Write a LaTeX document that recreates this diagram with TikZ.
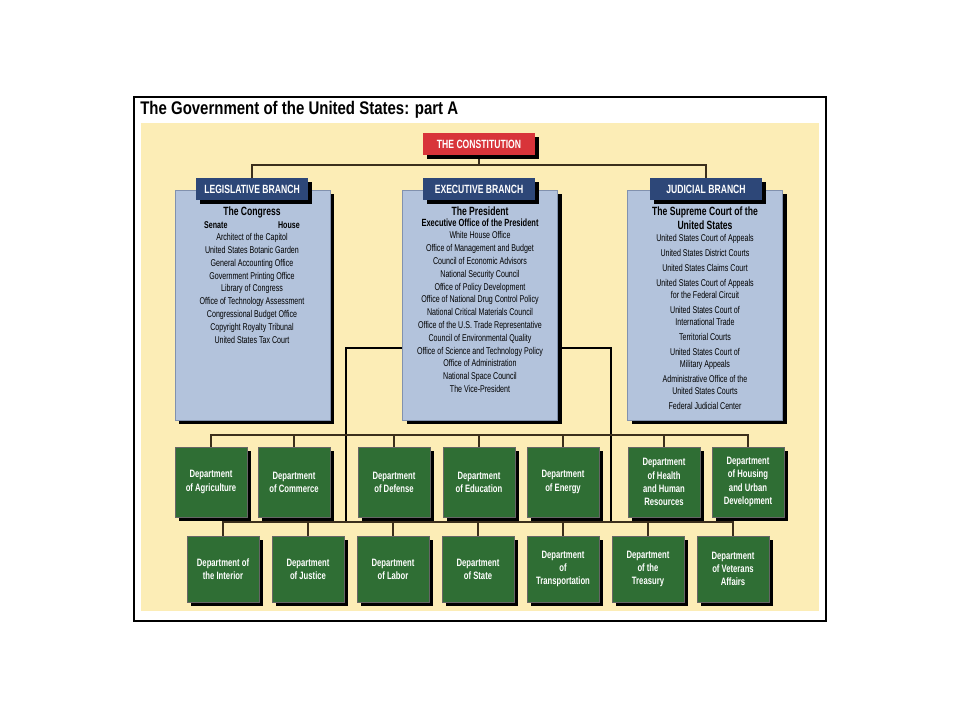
\documentclass[tikz,border=0pt]{standalone}
\usepackage{fontspec}
\setmainfont{Liberation Sans}
\newfontfamily\condfont[FakeStretch=0.72]{Liberation Sans}
\newfontfamily\titlefont[FakeStretch=0.82]{Liberation Sans}
\usetikzlibrary{positioning,shadows}
\definecolor{paper}{HTML}{FCEDB6}
\definecolor{bodyblue}{HTML}{B3C3DC}
\definecolor{headblue}{HTML}{2D4778}
\definecolor{consred}{HTML}{D8343A}
\definecolor{deptgreen}{HTML}{2F6E34}
\definecolor{wire}{HTML}{3B2F1C}
\tikzset{
  shade/.style={drop shadow={fill=black,opacity=1,shadow xshift=3pt,shadow yshift=-3pt}},
  head/.style={shade,fill=headblue,text=white,minimum width=2.8cm,minimum height=0.55cm,inner sep=0pt,font=\condfont\bfseries\fontsize{8.5}{9}\selectfont},
  branchbody/.style={shade,draw=headblue!60,fill=bodyblue,minimum width=3.875cm,minimum height=5.75cm,inner sep=0pt},
  listing/.style={anchor=north,align=center,inner sep=0pt,font=\condfont\fontsize{7}{9.1}\selectfont},
  dept/.style={shade,draw=black!60,fill=deptgreen,text=white,align=center,minimum width=1.8cm,inner sep=0pt,font=\condfont\bfseries\fontsize{7.6}{9.4}\selectfont},
  wireline/.style={wire,line width=1.1pt},
  trunk/.style={black,line width=1.8pt}
}
\begin{document}
\begin{tikzpicture}[x=0.025cm,y=-0.025cm]
  \useasboundingbox (0,0) rectangle (960,720);
  \node[draw=black,line width=1.5pt,minimum width=17.3cm,minimum height=13.1cm,inner sep=0pt] (frame) at (480,359) {};
  \node[fill=paper,minimum width=16.95cm,minimum height=12.2cm,inner sep=0pt] (paper) at (480,367) {};
  \node[anchor=west,inner sep=0pt,font=\titlefont\bfseries\fontsize{13}{14}\selectfont] (title) at (140,110) {The Government of the United States: part A};

  % wires behind the boxes
  \coordinate (bus) at (479,165);
  \draw[wireline] (479,144) -- (bus);
  \draw[wireline] (252,189) |- (bus) -| (706,189);
  \coordinate (tl) at (346,348);
  \coordinate (tr) at (611,348);
  \draw[trunk] (480,348) -- (tl) -- (346,522);
  \draw[trunk] (480,348) -- (tr) -- (611,522);
  \draw[wireline] (211,447) |- (748,435) -- (748,447);
  \foreach \x in {294,394,479,563,664} \draw[wireline] (\x,435) -- (\x,447);
  \draw[wireline] (223,536) |- (733,522) -- (733,536);
  \foreach \x in {308,393,478,563,648} \draw[wireline] (\x,522) -- (\x,536);

  \node[shade,fill=consred,text=white,minimum width=2.8cm,minimum height=0.55cm,inner sep=0pt,font=\condfont\bfseries\fontsize{8.5}{9}\selectfont] (cons) at (479,144) {THE CONSTITUTION};

  % legislative
  \node[branchbody] (legbody) at (252.5,305) {};
  \node[head] (leg) at (252,189) {LEGISLATIVE BRANCH};
  \node[listing,font=\condfont\bfseries\fontsize{8.5}{10}\selectfont] (congress) at (252,207) {The Congress};
  \node[listing,font=\condfont\bfseries\fontsize{7}{9}\selectfont,below=2pt of congress] (houses) {Senate\hspace{36pt}House};
  \node[listing,below=3pt of houses] (leglist) {Architect of the Capitol\\United States Botanic Garden\\General Accounting Office\\Government Printing Office\\Library of Congress\\Office of Technology Assessment\\Congressional Budget Office\\Copyright Royalty Tribunal\\United States Tax Court};

  % executive
  \node[branchbody] (execbody) at (480,305) {};
  \node[head] (exec) at (479,189) {EXECUTIVE BRANCH};
  \node[listing,font=\condfont\bfseries\fontsize{8.5}{10}\selectfont] (president) at (480,207) {The President};
  \node[listing,font=\condfont\bfseries\fontsize{7.4}{9}\selectfont,below=2pt of president] (eop) {Executive Office of the President};
  \node[listing,below=3pt of eop] (execlist) {White House Office\\Office of Management and Budget\\Council of Economic Advisors\\National Security Council\\Office of Policy Development\\Office of National Drug Control Policy\\National Critical Materials Council\\Office of the U.S. Trade Representative\\Council of Environmental Quality\\Office of Science and Technology Policy\\Office of Administration\\National Space Council\\The Vice-President};

  % judicial
  \node[branchbody] (judbody) at (705,305) {};
  \node[head] (jud) at (706,189) {JUDICIAL BRANCH};
  \node[listing,font=\condfont\bfseries\fontsize{8.5}{9.4}\selectfont] (supreme) at (705,207) {The Supreme Court of the\\United States};
  \node[listing,font=\condfont\fontsize{7}{8.3}\selectfont,below=3pt of supreme] (judlist) {United States Court of Appeals\\[2.5pt]United States District Courts\\[2.5pt]United States Claims Court\\[2.5pt]United States Court of Appeals\\for the Federal Circuit\\[2.5pt]United States Court of\\International Trade\\[2.5pt]Territorial Courts\\[2.5pt]United States Court of\\Military Appeals\\[2.5pt]Administrative Office of the\\United States Courts\\[2.5pt]Federal Judicial Center};

  % departments, upper row
  \foreach \name/\x/\txt in {agr/211/Department\\of Agriculture, com/294/Department\\of Commerce, def/394/Department\\of Defense, edu/479/Department\\of Education, ene/563/Department\\of Energy, hhs/664/Department\\of Health\\and Human\\Resources, hud/748/Department\\of Housing\\and Urban\\Development}
    \node[dept,minimum height=1.75cm] (\name) at (\x,482) {\txt};
  % departments, lower row
  \foreach \name/\x/\txt in {int/223/Department of\\the Interior, jus/308/Department\\of Justice, lab/393/Department\\of Labor, sta/478/Department\\of State, tra/563/Department\\of\\Transportation, tre/648/Department\\of the\\Treasury, vet/733/Department\\of Veterans\\Affairs}
    \node[dept,minimum height=1.65cm] (\name) at (\x,569) {\txt};
\end{tikzpicture}
\end{document}
